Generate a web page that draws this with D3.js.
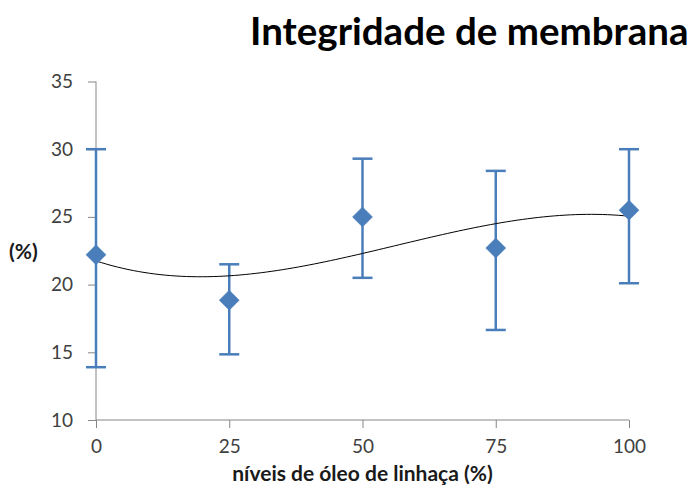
<!DOCTYPE html>
<html>
<head>
<meta charset="utf-8">
<script src="https://cdn.jsdelivr.net/npm/d3@7"></script>
<style>
  html, body { margin: 0; padding: 0; background: #fff; }
  svg { display: block; }
</style>
</head>
<body>
<script>
// Membrane integrity (%) by linseed oil level (%)
const levels = [0, 25, 50, 75, 100];
const integrity = [22.2, 18.85, 25.0, 22.7, 25.5];
const errUpper = [30.0, 21.5, 29.3, 28.4, 30.0];
const errLower = [13.9, 14.85, 20.5, 16.65, 20.1];
const yTicks = [10, 15, 20, 25, 30, 35];
const xTicks = [0, 25, 50, 75, 100];

const W = 695, H = 490;
const plotLeft = 96, plotRight = 629, plotTop = 81.5, plotBottom = 420;
const blue = "#4a7ebb";
const axisGrey = "#868686";
const font = "Lato, 'Open Sans', sans-serif";

const svg = d3.select("body").append("svg").attr("width", W).attr("height", H);

const x = d3.scaleLinear().domain([0, 100]).range([plotLeft, plotRight]);
const y = d3.scaleLinear().domain([10, 35]).range([plotBottom, plotTop]);

// Axes
const yAxis = svg.append("g").attr("transform", `translate(${plotLeft},0)`)
  .call(d3.axisLeft(y).tickValues(yTicks).tickSize(8).tickSizeOuter(0).tickPadding(15));
const xAxis = svg.append("g").attr("transform", `translate(0,${plotBottom})`)
  .call(d3.axisBottom(x).tickValues(xTicks).tickSize(8).tickSizeOuter(0).tickPadding(12));
[yAxis, xAxis].forEach(g => {
  g.select(".domain").remove();
  g.selectAll(".tick line").attr("stroke", axisGrey);
  g.selectAll(".tick text").attr("fill", "#404040")
    .style("font-family", font).style("font-size", "19px");
});
svg.append("line").attr("x1", plotLeft).attr("x2", plotLeft).attr("y1", plotTop).attr("y2", plotBottom)
  .attr("stroke", axisGrey);
svg.append("line").attr("x1", plotLeft).attr("x2", plotRight).attr("y1", plotBottom).attr("y2", plotBottom)
  .attr("stroke", axisGrey);

// Error bars
const data = levels.map((l, i) => ({ l, v: integrity[i], hi: errUpper[i], lo: errLower[i] }));
const eb = svg.append("g").attr("stroke", blue).attr("stroke-width", 2.5).attr("fill", "none");
data.forEach(d => {
  eb.append("line").attr("x1", x(d.l)).attr("x2", x(d.l)).attr("y1", y(d.hi)).attr("y2", y(d.lo));
  [d.hi, d.lo].forEach(v => eb.append("line")
    .attr("x1", x(d.l) - 10).attr("x2", x(d.l) + 10).attr("y1", y(v)).attr("y2", y(v)));
});

// Third-order polynomial trend line (least squares)
function polyFit(xs, ys, order) {
  const n = order + 1;
  const A = Array.from({ length: n }, () => new Array(n + 1).fill(0));
  xs.forEach((xv, k) => {
    const t = xv / 100;
    for (let i = 0; i < n; i++) {
      for (let j = 0; j < n; j++) A[i][j] += Math.pow(t, i + j);
      A[i][n] += ys[k] * Math.pow(t, i);
    }
  });
  for (let c = 0; c < n; c++) {
    let p = c;
    for (let r = c + 1; r < n; r++) if (Math.abs(A[r][c]) > Math.abs(A[p][c])) p = r;
    [A[c], A[p]] = [A[p], A[c]];
    for (let r = 0; r < n; r++) {
      if (r === c) continue;
      const f = A[r][c] / A[c][c];
      for (let k = c; k <= n; k++) A[r][k] -= f * A[c][k];
    }
  }
  const coef = A.map((row, i) => row[n] / row[i]);
  return xv => coef.reduce((s, c, i) => s + c * Math.pow(xv / 100, i), 0);
}
const trend = polyFit(levels, integrity, 3);
const trendPts = d3.range(0, 100.01, 1).map(l => [l, trend(l)]);
svg.append("path")
  .attr("d", d3.line().x(d => x(d[0])).y(d => y(d[1]))(trendPts))
  .attr("fill", "none").attr("stroke", "#000").attr("stroke-width", 1);

// Diamond markers
const mr = 10;
svg.append("g").selectAll("path").data(data).join("path")
  .attr("transform", d => `translate(${x(d.l)},${y(d.v)})`)
  .attr("d", `M0,${-mr}L${mr},0L0,${mr}L${-mr},0Z`)
  .attr("fill", blue).attr("stroke", blue).attr("stroke-width", 0.5);

// Titles
svg.append("text").attr("x", 250).attr("y", 45)
  .style("font-family", font).style("font-weight", "bold").style("font-size", "38.5px")
  .attr("fill", "#000").text("Integridade de membrana");
svg.append("text").attr("x", (plotLeft + plotRight) / 2).attr("y", 481).attr("text-anchor", "middle")
  .style("font-family", font).style("font-weight", "bold").style("font-size", "21px")
  .attr("fill", "#1a1a1a").text("níveis de óleo de linhaça (%)");
svg.append("text").attr("x", 9).attr("y", 259)
  .style("font-family", font).style("font-weight", "bold").style("font-size", "21px")
  .attr("fill", "#1a1a1a").text("(%)");
</script>
</body>
</html>
